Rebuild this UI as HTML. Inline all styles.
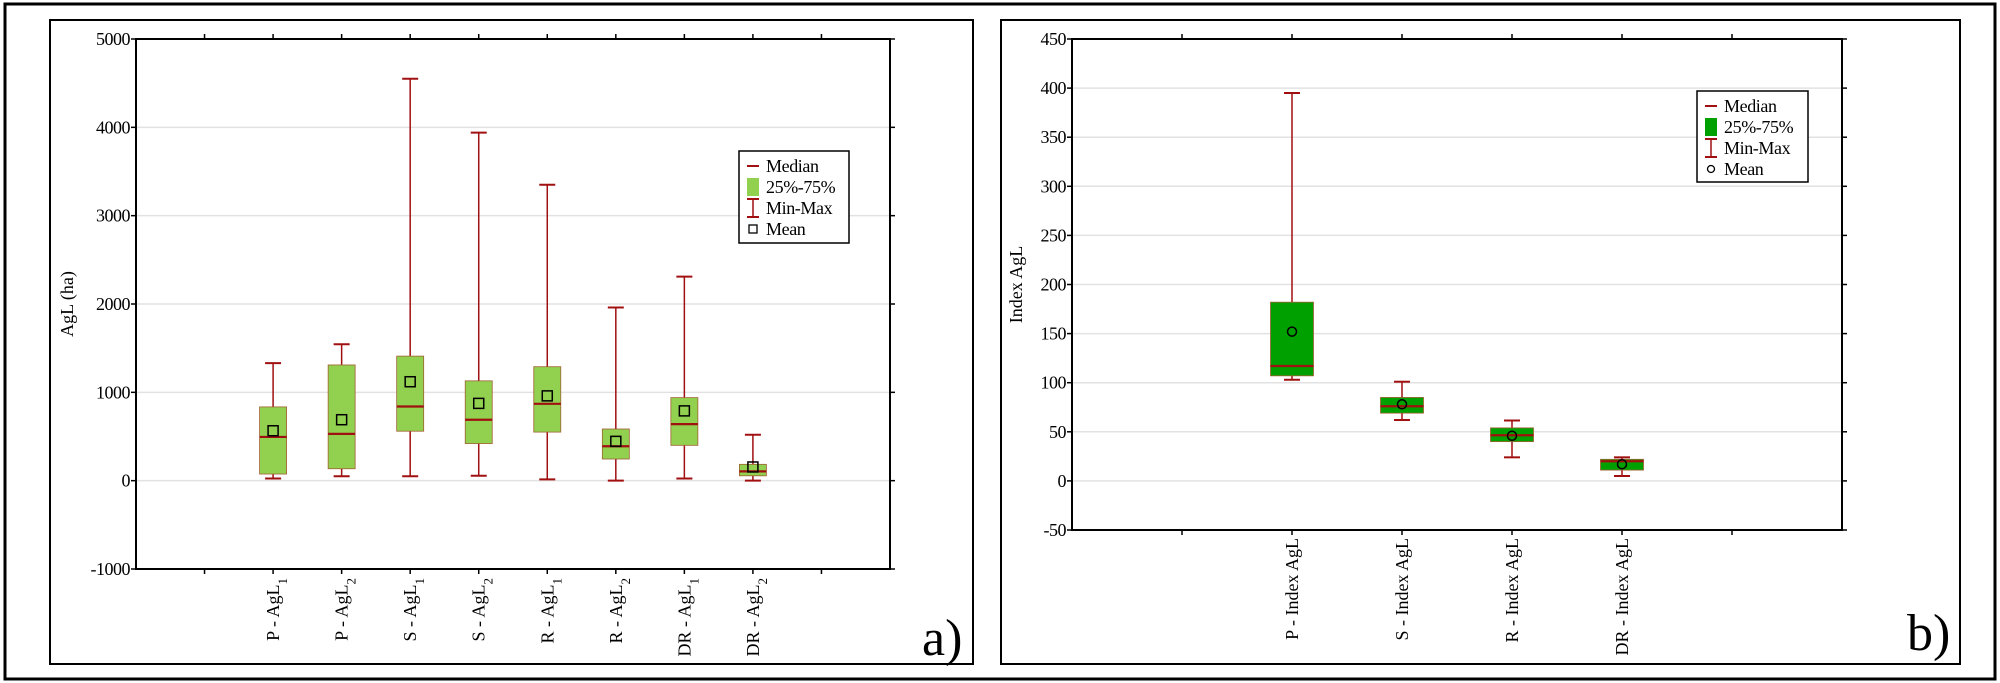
<!DOCTYPE html>
<html><head><meta charset="utf-8"><style>
html,body{margin:0;padding:0;background:#fff;}
svg{display:block;font-family:"Liberation Serif",serif;}
</style></head><body>
<svg id="chart" width="2000" height="683" viewBox="0 0 2000 683" xmlns="http://www.w3.org/2000/svg">
<rect x="5" y="4" width="1990" height="675" fill="none" stroke="#000" stroke-width="3"/>
<rect x="50" y="20" width="923" height="644" fill="none" stroke="#000" stroke-width="2"/>
<rect x="1001" y="20" width="959" height="644" fill="none" stroke="#000" stroke-width="2"/>
<g id="pa"></g>
<g id="pb"></g>
</svg>
<script>
// Panel a data
const catsA = [["P - AgL","1"],["P - AgL","2"],["S - AgL","1"],["S - AgL","2"],["R - AgL","1"],["R - AgL","2"],["DR - AgL","1"],["DR - AgL","2"]];
const minA = [25,50,50,55,15,0,25,0];
const q1A = [75,135,560,420,550,245,400,55];
const medA = [495,530,840,690,870,390,640,105];
const q3A = [835,1310,1410,1130,1290,585,940,185];
const maxA = [1330,1545,4550,3940,3350,1960,2310,520];
const meanA = [565,690,1120,875,960,445,790,155];
const ticksA = [-1000,0,1000,2000,3000,4000,5000];
// Panel b data
const catsB = [["P - Index AgL",""],["S - Index AgL",""],["R - Index AgL",""],["DR - Index AgL",""]];
const minB = [103,62,24,5];
const q1B = [107,69,40,11];
const medB = [117,76,46.5,20];
const q3B = [182,85,54,22];
const maxB = [395,101,61.5,24];
const meanB = [152,78,46,17];
const ticksB = [-50,0,50,100,150,200,250,300,350,400,450];

const NS="http://www.w3.org/2000/svg";
function mk(parent,tag,attrs,text){const e=document.createElementNS(NS,tag);for(const k in attrs)e.setAttribute(k,attrs[k]);if(text!==undefined)e.textContent=text;parent.appendChild(e);return e;}

function panel(g,cfg){
  const {x0,x1,y0,y1,vmin,vmax,nslots,start,cats,mins,q1s,meds,q3s,maxs,means,ticks,fill,bw,meanShape,title,titleX,labTop,legend,letter,letterX,letterY}=cfg;
  const ys=v=>y1-(v-vmin)/(vmax-vmin)*(y1-y0);
  const xs=i=>x0+(i+start)*(x1-x0)/nslots;
  const red="#a01010";
  ticks.forEach(t=>{
    if(t!==vmin&&t!==vmax){const l=mk(g,'line',{x1:x0,x2:x1,y1:ys(t),y2:ys(t),stroke:'#e2e2e2','stroke-width':1.5});
    }
    const tx=mk(g,'text',{x:x0-6,y:ys(t)+6,'text-anchor':'end','font-size':18,'letter-spacing':'-0.5'},String(t));
    
    mk(g,'line',{x1:x0,x2:x0-5,y1:ys(t),y2:ys(t),stroke:'#000','stroke-width':1.5});
    mk(g,'line',{x1:x1,x2:x1+5,y1:ys(t),y2:ys(t),stroke:'#000','stroke-width':1.5});
  });
  for(let k=1;k<nslots;k++){const x=x0+k*(x1-x0)/nslots;
    mk(g,'line',{x1:x,x2:x,y1:y0,y2:y0-5,stroke:'#000','stroke-width':1.5});
    mk(g,'line',{x1:x,x2:x,y1:y1,y2:y1+5,stroke:'#000','stroke-width':1.5});}
  const ax=mk(g,'rect',{x:x0,y:y0,width:x1-x0,height:y1-y0,fill:'none',stroke:'#000','stroke-width':2});
  
  cats.forEach((c,i)=>{
    const cx=xs(i);const bg=mk(g,'g',{});
    
    
    mk(bg,'line',{x1:cx,x2:cx,y1:ys(maxs[i]),y2:ys(mins[i]),stroke:red,'stroke-width':1.5});
    mk(bg,'line',{x1:cx-8,x2:cx+8,y1:ys(maxs[i]),y2:ys(maxs[i]),stroke:red,'stroke-width':2});
    mk(bg,'line',{x1:cx-8,x2:cx+8,y1:ys(mins[i]),y2:ys(mins[i]),stroke:red,'stroke-width':2});
    mk(bg,'rect',{x:cx-bw/2,y:ys(q3s[i]),width:bw,height:ys(q1s[i])-ys(q3s[i]),fill:fill,stroke:'#a06030','stroke-width':0.8});
    mk(bg,'line',{x1:cx-bw/2,x2:cx+bw/2,y1:ys(meds[i]),y2:ys(meds[i]),stroke:red,'stroke-width':2.2});
    if(meanShape==='sq')mk(bg,'rect',{x:cx-5,y:ys(means[i])-5,width:10,height:10,fill:'none',stroke:'#000','stroke-width':1.5});
    else mk(bg,'circle',{cx:cx,cy:ys(means[i]),r:4.5,fill:'none',stroke:'#000','stroke-width':1.5});
    const t=mk(g,'text',{transform:`translate(${cx+6},${labTop}) rotate(-90)`,'text-anchor':'end','font-size':18});
    
    mk(t,'tspan',{},c[0]);
    if(c[1])mk(t,'tspan',{'baseline-shift':'sub','font-size':13},c[1]);
  });
  const yt=mk(g,'text',{transform:`translate(${titleX},${(y0+y1)/2}) rotate(-90)`,'text-anchor':'middle','font-size':18},title);
  
  // legend
  const L=legend;const lg=mk(g,'g',{});
  
  mk(lg,'rect',{x:L.x,y:L.y,width:L.w,height:L.h,fill:'#fff',stroke:'#000','stroke-width':1.5});
  const rows=['Median','25%-75%','Min-Max','Mean'];const sx=L.x+14;
  rows.forEach((r,j)=>{const cy=L.y+15+j*21;
    const te=mk(lg,'text',{x:L.x+27,y:cy+6,'font-size':18,'letter-spacing':'-0.4'},r);
    
    if(j===0)mk(lg,'line',{x1:sx-6,x2:sx+6,y1:cy,y2:cy,stroke:red,'stroke-width':2});
    if(j===1)mk(lg,'rect',{x:sx-6,y:cy-9,width:12,height:18,fill:fill});
    if(j===2){mk(lg,'line',{x1:sx,x2:sx,y1:cy-9,y2:cy+9,stroke:red,'stroke-width':1.5});mk(lg,'line',{x1:sx-6,x2:sx+6,y1:cy-9,y2:cy-9,stroke:red,'stroke-width':2});mk(lg,'line',{x1:sx-6,x2:sx+6,y1:cy+9,y2:cy+9,stroke:red,'stroke-width':2});}
    if(j===3){if(meanShape==='sq')mk(lg,'rect',{x:sx-4,y:cy-4,width:8,height:8,fill:'none',stroke:'#000','stroke-width':1.3});else mk(lg,'circle',{cx:sx,cy:cy,r:3.5,fill:'none',stroke:'#000','stroke-width':1.3});}
  });
  const lt=mk(g,'text',{x:letterX,y:letterY,'font-size':52},letter);
  
}
panel(document.getElementById('pa'),{x0:136,x1:890,y0:39,y1:569,vmin:-1000,vmax:5000,nslots:11,start:2,cats:catsA,mins:minA,q1s:q1A,meds:medA,q3s:q3A,maxs:maxA,means:meanA,ticks:ticksA,fill:'#92d050',bw:27,meanShape:'sq',title:'AgL (ha)',titleX:73,labTop:578,legend:{x:739,y:151,w:110,h:92},letter:'a)',letterX:922,letterY:655});
panel(document.getElementById('pb'),{x0:1072,x1:1842,y0:39,y1:530,vmin:-50,vmax:450,nslots:7,start:2,cats:catsB,mins:minB,q1s:q1B,meds:medB,q3s:q3B,maxs:maxB,means:meanB,ticks:ticksB,fill:'#00a000',bw:43,meanShape:'circ',title:'Index AgL',titleX:1022,labTop:538,legend:{x:1697,y:91,w:111,h:91},letter:'b)',letterX:1907,letterY:650});
</script>
</body></html>
